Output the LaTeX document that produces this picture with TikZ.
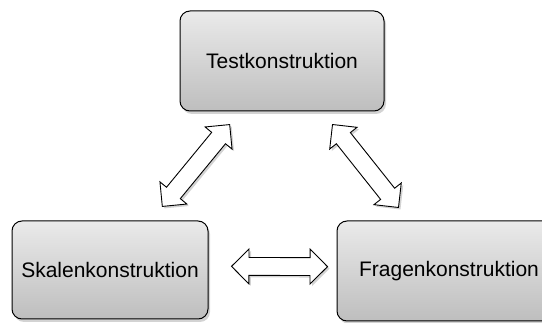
\documentclass[tikz,border=0pt]{standalone}
\usepackage{fontspec}
\setmainfont{Liberation Sans}
\usetikzlibrary{shapes.arrows,shadows}

\definecolor{boxtop}{RGB}{234,234,234}
\definecolor{boxbot}{RGB}{190,190,190}

\begin{document}
\begin{tikzpicture}[x=1pt,y=-1pt,
  stage/.style={draw,rectangle,rounded corners=10pt,line width=1pt,
                top color=boxtop,bottom color=boxbot,
                font=\fontsize{21}{25}\selectfont,
                drop shadow={shadow xshift=2pt,shadow yshift=-3pt,opacity=0.35}},
  biarrow/.style={draw,shape=double arrow,fill=white,line width=0.9pt,
                  inner xsep=0pt,inner ysep=8.5pt,double arrow head extend=8.5pt,
                  drop shadow={shadow xshift=2pt,shadow yshift=-2pt,opacity=0.35}}
]
\clip (0,0) rectangle (542,323);
% Stages
\node[stage,minimum width=204pt,minimum height=100pt] (test) at (282,61) {Testkonstruktion};
\node[stage,minimum width=196pt,minimum height=98pt] (skala) at (110,270) {Skalenkonstruktion};
\node[stage,minimum width=224pt,minimum height=100pt] (frage) at (449,271) {Fragenkonstruktion};
% Block arrows between the stages
\path (test.center) -- (skala.center)
  node[biarrow,midway,sloped,minimum height=106pt] (ts) {};
\path (test.center) -- (frage.center)
  node[biarrow,midway,sloped,minimum height=106pt] (tf) {};
\path (skala.center) -- (frage.center)
  node[biarrow,midway,sloped,yshift=4pt,minimum height=96pt] (sf) {};
\end{tikzpicture}
\end{document}
